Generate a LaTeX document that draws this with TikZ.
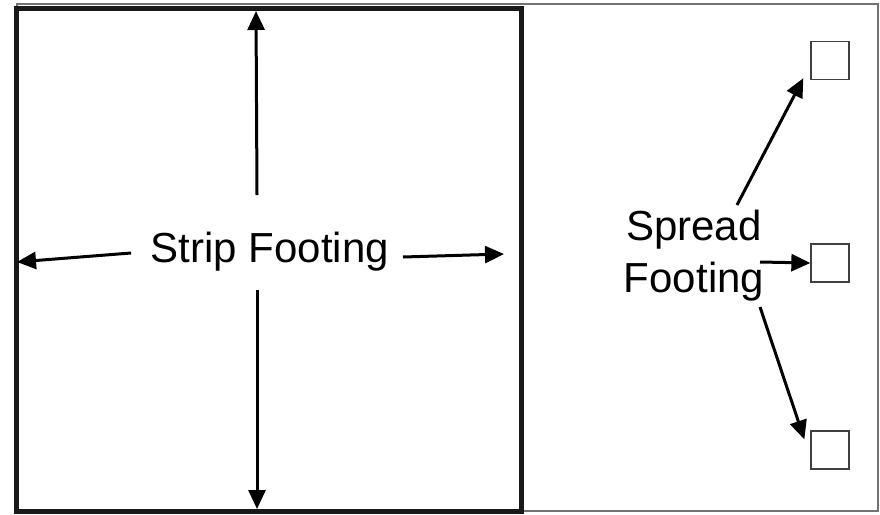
\documentclass[tikz,border=0pt]{standalone}
\usepackage{fontspec}
\setmainfont{Liberation Sans}
\usetikzlibrary{arrows.meta}
\begin{document}
\begin{tikzpicture}[x=1pt,y=-1pt,
  label text/.style={inner sep=0pt, font=\fontsize{42}{51.5}\selectfont},
  pointer/.style={line width=3pt, -{Triangle[length=19pt,width=17pt]}},
  footpad/.style={draw=black!75, line width=1.3pt, minimum size=38pt, inner sep=0pt}]
  \useasboundingbox (0,0) rectangle (880,514);
  % outer frame and strip outline
  \draw[black!55, line width=1.5pt] (17,4) rectangle (878,511);
  \draw[black!90, line width=5pt] (16.5,8.5) rectangle (521.5,511.5);

  % labels
  \node[label text, anchor=base] (strip) at (270,262) {Strip Footing};
  \node[label text, align=center, anchor=base] (spread) at (694,292) {Spread\\Footing};

  % spread footing pads
  \node[footpad] (padA) at (830,60.5) {};
  \node[footpad] (padB) at (830,263) {};
  \node[footpad] (padC) at (830,450) {};

  % strip footing arrows
  \coordinate (sUp)   at (257,195);
  \coordinate (sUpE)  at (256,11);
  \coordinate (sDn)   at (257,290);
  \coordinate (sDnE)  at (257,509);
  \coordinate (sLt)   at (131,253);
  \coordinate (sLtE)  at (17,262);
  \coordinate (sRt)   at (403,257);
  \coordinate (sRtE)  at (504,254);
  \draw[pointer] (sUp) -- (sUpE);
  \draw[pointer] (sDn) -- (sDnE);
  \draw[pointer] (sLt) -- (sLtE);
  \draw[pointer] (sRt) -- (sRtE);

  % spread footing arrows
  \coordinate (pA) at (737,205);
  \coordinate (pB) at (760,262);
  \coordinate (pC) at (760,307);
  \draw[pointer] (pA) -- ([xshift=-7pt,yshift=2pt]padA.south west);
  \draw[pointer] (pB) -- (padB.west);
  \draw[pointer] (pC) -- ([xshift=-6pt,yshift=-9pt]padC.north west);
\end{tikzpicture}
\end{document}
